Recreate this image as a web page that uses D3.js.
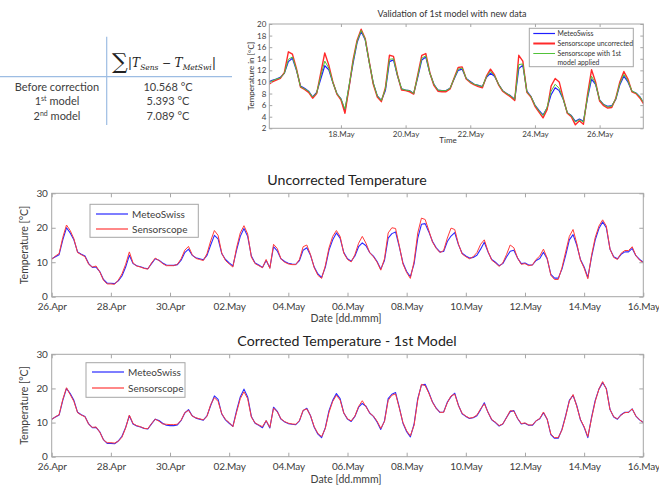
<!DOCTYPE html>
<html>
<head>
<meta charset="utf-8">
<script src="https://cdn.jsdelivr.net/npm/d3@7"></script>
<style>
  body { margin: 0; background: #fff; }
  svg { display: block; font-family: Lato, "Open Sans", sans-serif; }
</style>
</head>
<body>
<svg id="fig" width="659" height="500"></svg>
<script>
// ---------- table (top left) ----------
const tableRows = ["Before correction", "1st model", "2nd model"];
const tableSup = ["", "st", "nd"];
const tableValues = ["10.568 °C", "5.393 °C", "7.089 °C"];

// ---------- validation chart (top right), 3-hourly from 15.May 18:00 ----------
const valStart = "2016-05-15T18:00Z";
const valTicks = ["2016-05-18", "2016-05-20", "2016-05-22", "2016-05-24", "2016-05-26"];
const valMeteo = [10.0, 10.3, 10.5, 10.8, 11.5, 13.5, 14.1, 12.0, 9.3, 8.9, 8.4, 7.4, 8.2, 10.5, 12.8, 12.1,
  9.9, 8.0, 7.1, 5.0, 9.2, 13.2, 16.8, 18.7, 17.3, 13.4, 9.8, 7.6, 6.8, 8.5, 13.5, 13.8,
  11.0, 8.8, 8.6, 8.5, 8.0, 10.8, 13.8, 14.3, 11.5, 9.6, 8.6, 8.5, 8.5, 8.9, 10.5, 12.0,
  12.2, 10.6, 10.1, 9.6, 9.4, 9.2, 10.8, 11.5, 11.0, 9.6, 8.5, 8.0, 7.6, 7.0, 12.3, 12.9,
  8.4, 7.5, 6.0, 5.1, 4.3, 5.5, 7.8, 9.0, 8.5, 7.0, 4.7, 4.2, 3.2, 3.6, 3.2, 7.2,
  10.5, 9.6, 6.9, 6.1, 5.8, 5.9, 7.0, 9.5, 11.0, 10.0, 8.4, 8.1, 7.4, 6.3];
const valUncorr = [9.5, 10.0, 10.3, 10.6, 11.6, 15.2, 14.8, 12.3, 9.1, 8.7, 8.2, 7.2, 8.0, 11.5, 15.0, 12.9,
  10.0, 7.9, 6.9, 4.6, 9.0, 13.8, 17.2, 19.1, 17.5, 13.5, 9.6, 7.4, 6.6, 9.0, 14.6, 14.4,
  11.2, 8.6, 8.5, 8.3, 7.9, 11.2, 14.6, 14.9, 11.6, 9.4, 8.4, 8.3, 8.3, 8.8, 10.7, 12.5,
  12.6, 10.5, 9.9, 9.5, 9.2, 9.0, 11.0, 12.2, 11.2, 9.5, 8.4, 7.9, 7.4, 6.8, 14.6, 13.6,
  8.2, 7.4, 5.8, 4.8, 3.8, 5.2, 9.3, 10.6, 10.0, 7.2, 4.6, 4.0, 2.6, 3.3, 2.7, 7.8,
  12.1, 10.0, 6.7, 5.9, 5.5, 5.6, 7.2, 10.0, 11.8, 10.5, 8.3, 8.0, 7.2, 6.1];
const valModel1 = [9.8, 10.2, 10.5, 10.7, 11.5, 13.9, 14.3, 12.1, 9.2, 8.8, 8.4, 7.4, 8.1, 11.0, 13.6, 12.4,
  9.9, 8.0, 7.1, 5.3, 9.3, 13.5, 17.0, 18.9, 17.4, 13.4, 9.8, 7.6, 6.8, 8.8, 13.9, 14.0,
  11.1, 8.8, 8.6, 8.5, 8.0, 11.0, 14.1, 14.5, 11.5, 9.6, 8.6, 8.5, 8.5, 8.9, 10.6, 12.2,
  12.4, 10.6, 10.0, 9.6, 9.4, 9.2, 10.9, 11.8, 11.1, 9.6, 8.5, 8.0, 7.6, 7.0, 13.0, 13.1,
  8.3, 7.5, 6.0, 5.0, 4.2, 5.6, 8.4, 9.6, 8.9, 7.0, 4.7, 4.2, 3.1, 3.5, 3.1, 7.4,
  11.0, 9.7, 6.9, 6.1, 5.7, 5.8, 7.1, 9.7, 11.3, 10.2, 8.4, 8.1, 7.4, 6.3];

// ---------- lower charts, 3-hourly from 26.Apr 00:00 to 16.May 00:00 ----------
const mainStart = "2016-04-26T00:00Z";
const mainTicks = ["2016-04-26", "2016-04-28", "2016-04-30", "2016-05-02", "2016-05-04", "2016-05-06",
  "2016-05-08", "2016-05-10", "2016-05-12", "2016-05-14", "2016-05-16"];
const meteoSwiss = [
  11.0, 11.6, 12.2, 16.5, 20.0, 18.5, 16.5, 13.0,
  12.3, 11.8, 9.6, 8.5, 8.6, 7.3, 5.0, 3.9,
  3.9, 3.8, 4.6, 6.0, 8.6, 12.0, 9.6, 9.0,
  8.7, 8.3, 8.1, 9.6, 11.0, 10.6, 9.8, 9.2,
  9.1, 9.1, 9.3, 10.6, 12.8, 13.8, 12.0, 11.3,
  11.0, 10.7, 12.0, 15.0, 17.8, 16.8, 12.5, 10.8,
  9.8, 8.9, 13.5, 17.5, 19.8, 17.5, 11.8, 9.8,
  9.2, 8.5, 10.5, 8.4, 14.5, 13.3, 11.0, 10.2,
  9.7, 9.5, 9.4, 10.5, 13.5, 14.2, 12.0, 8.6,
  6.6, 5.6, 8.5, 13.5, 16.5, 18.5, 17.0, 12.8,
  11.0, 10.3, 11.8, 14.5, 15.6, 14.8, 12.8, 11.8,
  10.2, 8.0, 10.5, 17.0, 18.3, 18.8, 14.5, 9.8,
  7.3, 5.8, 9.5, 17.0, 21.0, 21.2, 18.8, 16.0,
  14.2, 13.0, 13.1, 16.0, 17.6, 18.6, 15.1, 12.6,
  11.8, 11.2, 11.4, 12.0, 13.8, 15.8, 13.0, 10.8,
  10.0, 9.0, 9.6, 11.5, 13.2, 13.5, 11.2, 9.6,
  9.8, 9.2, 9.2, 10.5, 11.1, 12.9, 11.0, 6.5,
  5.4, 5.4, 8.0, 12.0, 16.5, 18.0, 15.0, 10.8,
  8.6, 5.6, 11.5, 16.5, 19.8, 21.7, 20.0, 13.8,
  11.6, 11.0, 12.3, 13.0, 13.0, 14.0, 11.9, 10.8,
  10.0];
const sensorUncorr = [
  10.8, 11.8, 12.5, 17.2, 20.8, 19.2, 16.8, 12.8,
  12.2, 11.6, 9.4, 8.6, 8.9, 7.2, 4.8, 3.7,
  3.7, 3.6, 4.8, 6.6, 9.4, 13.0, 9.8, 8.9,
  8.6, 8.2, 8.0, 9.8, 11.2, 10.5, 9.6, 9.0,
  9.0, 9.0, 9.4, 11.0, 13.5, 14.6, 12.2, 11.1,
  10.8, 10.5, 12.5, 16.2, 19.2, 17.8, 12.6, 10.5,
  9.5, 8.6, 14.2, 18.5, 20.6, 18.2, 11.5, 9.6,
  9.0, 8.4, 10.8, 8.2, 15.2, 14.0, 11.0, 10.0,
  9.5, 9.3, 9.3, 10.8, 14.5, 15.0, 12.2, 8.4,
  6.2, 5.3, 9.0, 14.2, 17.5, 19.2, 17.5, 12.6,
  10.8, 10.1, 12.2, 15.5, 17.5, 15.5, 12.8, 11.6,
  10.0, 7.7, 11.0, 18.5, 20.0, 19.8, 14.8, 9.5,
  7.0, 5.3, 10.2, 18.5, 22.8, 22.4, 19.2, 15.8,
  14.0, 12.8, 13.4, 17.0, 19.9, 19.5, 15.3, 12.4,
  11.6, 11.0, 11.6, 12.8, 15.2, 16.5, 13.2, 10.6,
  9.8, 8.8, 9.8, 12.2, 15.0, 14.2, 11.2, 9.4,
  9.6, 9.0, 9.2, 10.8, 11.8, 13.8, 11.2, 6.2,
  5.0, 5.0, 8.4, 13.0, 17.5, 19.5, 15.5, 10.6,
  8.3, 5.2, 12.0, 17.2, 20.5, 22.3, 20.5, 13.8,
  11.4, 10.8, 12.6, 13.4, 13.4, 14.5, 11.9, 10.6,
  9.9];
const sensorModel1 = [
  10.9, 11.7, 12.3, 16.8, 20.2, 18.2, 16.2, 12.9,
  12.2, 11.7, 9.5, 8.6, 8.7, 7.2, 4.9, 4.1,
  4.1, 4.0, 4.5, 5.7, 8.4, 12.2, 9.7, 9.1,
  8.8, 8.3, 8.2, 9.7, 11.0, 10.4, 9.6, 9.5,
  9.4, 9.4, 9.5, 10.7, 12.9, 13.6, 11.9, 11.4,
  11.1, 10.8, 11.8, 15.3, 17.3, 16.2, 12.6, 10.9,
  10.0, 8.8, 13.0, 17.0, 19.0, 17.0, 11.6, 9.9,
  9.3, 8.8, 10.6, 8.6, 14.2, 13.2, 11.1, 10.3,
  9.8, 9.6, 9.5, 10.6, 13.6, 14.0, 12.0, 8.8,
  6.8, 5.9, 8.3, 13.0, 16.2, 18.0, 16.6, 12.8,
  11.1, 10.5, 11.9, 14.7, 16.4, 14.6, 12.8, 11.9,
  10.4, 8.3, 10.3, 16.5, 18.0, 18.4, 14.3, 10.0,
  7.6, 6.1, 9.2, 16.6, 21.2, 20.8, 18.6, 15.9,
  14.1, 13.0, 13.0, 15.8, 17.8, 18.3, 15.0, 12.7,
  11.9, 11.3, 11.5, 12.2, 14.0, 15.5, 13.0, 10.9,
  10.1, 9.1, 9.6, 11.4, 13.5, 13.3, 11.2, 9.7,
  9.9, 9.3, 9.3, 10.5, 11.2, 13.1, 11.0, 6.6,
  5.6, 5.6, 7.8, 11.8, 16.3, 18.2, 14.8, 10.9,
  8.8, 5.9, 11.2, 16.2, 19.8, 22.0, 19.8, 13.8,
  11.7, 11.1, 12.2, 12.9, 13.0, 14.0, 11.9, 10.8,
  10.0];

const svg = d3.select("#fig");
const boxColor = "#a6a6a6";
const textColor = "#404040";
const step = 3 * 3600 * 1000;

//Turn a value list into [date, value] points
function series(start, values) {
  const t0 = new Date(start).getTime();
  return values.map((v, i) => [new Date(t0 + i * step), v]);
}

//Draw one MATLAB-like axes box with ticks inside on all 4 sides
function drawAxes(g, x, y, opt) {
  const [x0, x1] = x.range();
  const [y0, y1] = y.range();
  const fmt = d3.utcFormat("%d.%b");
  const xt = opt.xTicks.map(d => new Date(d));

  const ax = [
    [d3.axisBottom(x).tickValues(xt).tickFormat(fmt), `translate(0,${y0})`, opt.xPad],
    [d3.axisTop(x).tickValues(xt).tickFormat(""), `translate(0,${y1})`, 0],
    [d3.axisLeft(y).tickValues(opt.yTicks), `translate(${x0},0)`, opt.pad],
    [d3.axisRight(y).tickValues(opt.yTicks).tickFormat(""), `translate(${x1},0)`, 0]
  ];
  ax.forEach(([a, tr, pad]) => {
    const s = g.append("g").attr("transform", tr)
      .call(a.tickSizeInner(-opt.tick).tickSizeOuter(0).tickPadding(pad));
    s.select(".domain").remove();
    s.selectAll("line").attr("stroke", boxColor);
    s.selectAll("text").attr("fill", textColor)
      .style("font-size", opt.fontSize + "px").style("font-family", "Lato, sans-serif")
      .style("letter-spacing", opt.spacing || 0);
  });

  g.append("rect")
    .attr("x", x0).attr("y", y1)
    .attr("width", x1 - x0).attr("height", y0 - y1)
    .attr("fill", "none").attr("stroke", boxColor).attr("stroke-width", 1);
}

//Line plot of several series inside a clipped area
function drawLines(g, x, y, list, clipId) {
  const [x0, x1] = x.range();
  const [y0, y1] = y.range();
  svg.append("clipPath").attr("id", clipId)
    .append("rect").attr("x", x0).attr("y", y1).attr("width", x1 - x0).attr("height", y0 - y1);
  const line = d3.line().x(d => x(d[0])).y(d => y(d[1]));
  const lg = g.append("g").attr("clip-path", `url(#${clipId})`);
  list.forEach(s => {
    lg.append("path").datum(s.data)
      .attr("d", line)
      .attr("fill", "none")
      .attr("stroke", s.color)
      .attr("stroke-width", s.width)
      .attr("stroke-linejoin", "round");
  });
}

// ---------- table ----------
const tbl = svg.append("g");
const tblLine = "#9dbde3";
tbl.append("line").attr("x1", 0).attr("x2", 232).attr("y1", 76.7).attr("y2", 76.7)
  .attr("stroke", tblLine).attr("stroke-width", 1.2);
tbl.append("line").attr("x1", 106.7).attr("x2", 106.7).attr("y1", 36.7).attr("y2", 125)
  .attr("stroke", tblLine).attr("stroke-width", 1.2);

const head = tbl.append("text").attr("x", 112).attr("y", 67)
  .attr("fill", "#222").style("font-family", "'DejaVu Serif', serif");
head.append("tspan").text("∑").style("font-size", "22px").attr("dy", 2);
head.append("tspan").text("|").style("font-size", "13px").attr("dy", -2);
head.append("tspan").text("T").style("font-size", "12px").style("font-style", "italic");
head.append("tspan").text("Sens").style("font-size", "7.5px").style("font-style", "italic").attr("dy", 3);
head.append("tspan").text(" − ").style("font-size", "11px").attr("dy", -3);
head.append("tspan").text("T").style("font-size", "12px").style("font-style", "italic");
head.append("tspan").text("MetSwi").style("font-size", "7.5px").style("font-style", "italic").attr("dy", 3);
head.append("tspan").text("|").style("font-size", "13px").attr("dy", -3);

const rowY = [91, 104.5, 119.5];
tableRows.forEach((r, i) => {
  const label = r.replace(tableSup[i], "");
  const t = tbl.append("text").attr("x", 57).attr("y", rowY[i]).attr("text-anchor", "middle")
    .attr("fill", textColor).style("font-size", "11px");
  if (tableSup[i]) {
    t.append("tspan").text(label.split(" ")[0]);
    t.append("tspan").text(tableSup[i]).style("font-size", "7px").attr("dy", -4);
    t.append("tspan").text(" " + label.split(" ").slice(1).join(" ")).attr("dy", 4);
  } else {
    t.text(r);
  }
  tbl.append("text").attr("x", 168).attr("y", rowY[i]).attr("text-anchor", "middle")
    .attr("fill", textColor).style("font-size", "11px").text(tableValues[i]);
});

// ---------- validation chart ----------
{
  const g = svg.append("g");
  const x = d3.scaleUtc()
    .domain([new Date("2016-05-15T18:50Z"), new Date("2016-05-27T08:25Z")])
    .range([269.3, 643.3]);
  const y = d3.scaleLinear().domain([2, 20]).range([128.3, 24]);

  drawLines(g, x, y, [
    { data: series(valStart, valMeteo), color: "#1f1fff", width: 1.2 },
    { data: series(valStart, valUncorr), color: "#ff2a2a", width: 1.4 },
    { data: series(valStart, valModel1), color: "#52c23a", width: 1 }
  ], "clipVal");
  drawAxes(g, x, y, { xTicks: valTicks, yTicks: d3.range(2, 21, 2), tick: 3, pad: 3, xPad: 3, fontSize: 8 });

  g.append("text").attr("x", 452).attr("y", 17).attr("text-anchor", "middle")
    .attr("fill", "#333").style("font-size", "9px").text("Validation of 1st model with new data");
  g.append("text").attr("x", 448).attr("y", 143).attr("text-anchor", "middle")
    .attr("fill", "#333").style("font-size", "8px").text("Time");
  g.append("text").attr("transform", "translate(254,76) rotate(-90)").attr("text-anchor", "middle")
    .attr("fill", "#333").style("font-size", "8px").text("Temperature in [°C]");

  //legend
  const lg = g.append("g");
  lg.append("rect").attr("x", 529.3).attr("y", 28.3).attr("width", 104).attr("height", 38.4)
    .attr("fill", "#fff").attr("stroke", boxColor);
  const items = [
    { name: ["MeteoSwiss"], color: "#1f1fff", w: 1.2, y: 33.5 },
    { name: ["Sensorscope uncorrected"], color: "#ff2a2a", w: 2, y: 43.5 },
    { name: ["Sensorscope with 1st", "model applied"], color: "#52c23a", w: 1, y: 53.5 }
  ];
  items.forEach(it => {
    lg.append("line").attr("x1", 533.3).attr("x2", 555).attr("y1", it.y).attr("y2", it.y)
      .attr("stroke", it.color).attr("stroke-width", it.w);
    it.name.forEach((n, k) => {
      lg.append("text").attr("x", 557.5).attr("y", it.y + 2.4 + k * 8.8)
        .attr("fill", "#333").style("font-size", "6.8px").text(n);
    });
  });
}

// ---------- lower charts ----------
function mainChart(top, bottom, title, sensorValues, clipId, legendBox, titleY, labelY) {
  const g = svg.append("g");
  const x = d3.scaleUtc()
    .domain([new Date(mainTicks[0]), new Date(mainTicks[mainTicks.length - 1])])
    .range([51.7, 643.3]);
  const y = d3.scaleLinear().domain([0, 30]).range([bottom, top]);

  drawLines(g, x, y, [
    { data: series(mainStart, meteoSwiss), color: "#2a2aff", width: 1.1 },
    { data: series(mainStart, sensorValues), color: "#ff3b3b", width: 1 }
  ], clipId);
  drawAxes(g, x, y, {
    xTicks: mainTicks, yTicks: [0, 10, 20, 30], tick: 4, pad: 4, xPad: 6,
    fontSize: 10, spacing: "-0.15px"
  });

  g.append("text").attr("x", 347).attr("y", titleY).attr("text-anchor", "middle")
    .attr("fill", "#222").style("font-size", "14.2px").text(title);
  g.append("text").attr("x", 346).attr("y", labelY).attr("text-anchor", "middle")
    .attr("fill", textColor).style("font-size", "10.5px").text("Date [dd.mmm]");
  g.append("text").attr("transform", `translate(28,${(top + bottom) / 2}) rotate(-90)`)
    .attr("text-anchor", "middle").attr("fill", textColor).style("font-size", "10.5px")
    .text("Temperature [°C]");

  //legend
  const [bx, by, bw, bh] = legendBox;
  const lg = g.append("g");
  lg.append("rect").attr("x", bx).attr("y", by).attr("width", bw).attr("height", bh)
    .attr("fill", "#fff").attr("stroke", boxColor);
  [["MeteoSwiss", "#2a2aff", 0.28], ["Sensorscope", "#ff3b3b", 0.74]].forEach(([n, c, f]) => {
    const ly = Math.round(by + bh * f);
    lg.append("rect").attr("x", bx + 6).attr("y", ly - 0.6).attr("width", 32).attr("height", 1.2)
      .attr("fill", c);
    lg.append("text").attr("x", bx + 42).attr("y", ly + 3.6)
      .attr("fill", textColor).style("font-size", "10px").text(n);
  });
}

mainChart(193.3, 296.7, "Uncorrected Temperature", sensorUncorr, "clipU", [90, 204.3, 108.3, 33], 185, 322);
mainChart(354.3, 456.7, "Corrected Temperature - 1st Model", sensorModel1, "clipC", [86, 362.7, 99, 34.6], 346, 483);
</script>
</body>
</html>
